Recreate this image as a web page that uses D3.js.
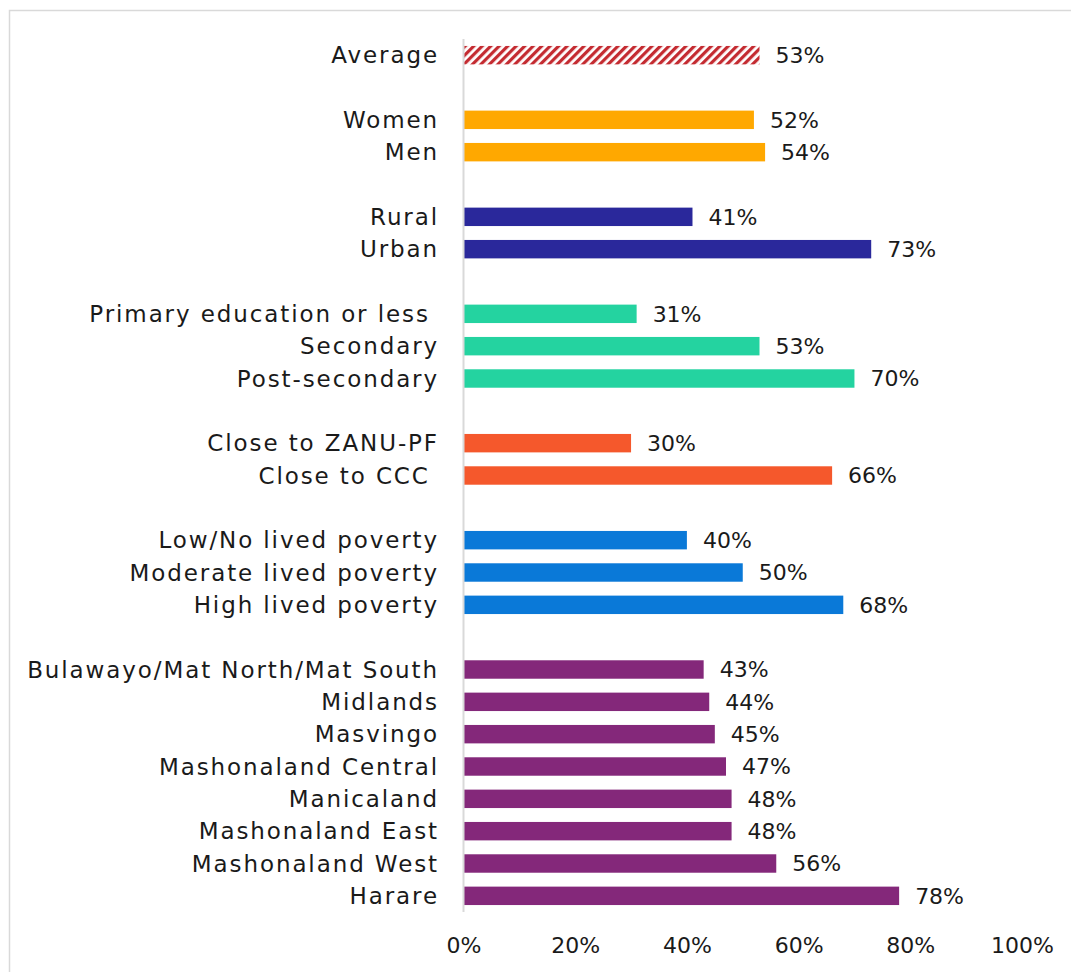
<!DOCTYPE html>
<html>
<head>
<meta charset="utf-8">
<script src="https://cdn.jsdelivr.net/npm/d3@7"></script>
<style>
  html, body { margin: 0; padding: 0; background: #fff; }
  svg text { font-family: "Century Gothic", "URW Gothic", "DejaVu Sans", sans-serif; fill: #1a1a1a; white-space: pre; }
</style>
</head>
<body>
<svg id="chart" width="1071" height="972"></svg>
<script>
// Rows from top to bottom; empty strings are spacer rows between groups
const categories = [
  "Average", "",
  "Women", "Men", "",
  "Rural", "Urban", "",
  "Primary education or less ", "Secondary", "Post-secondary", "",
  "Close to ZANU-PF", "Close to CCC ", "",
  "Low/No lived poverty", "Moderate lived poverty", "High lived poverty", "",
  "Bulawayo/Mat North/Mat South", "Midlands", "Masvingo", "Mashonaland Central",
  "Manicaland", "Mashonaland East", "Mashonaland West", "Harare"
];
const values = [
  53, null,
  52, 54, null,
  41, 73, null,
  31, 53, 70, null,
  30, 66, null,
  40, 50, 68, null,
  43, 44, 45, 47, 48, 48, 56, 78
];
const groups = [
  "avg", null,
  "gender", "gender", null,
  "loc", "loc", null,
  "edu", "edu", "edu", null,
  "party", "party", null,
  "pov", "pov", "pov", null,
  "reg", "reg", "reg", "reg", "reg", "reg", "reg", "reg"
];
const tickValues = [0, 20, 40, 60, 80, 100];

const groupColors = {
  avg: "url(#hatch)",
  gender: "#FFA800",
  loc: "#2A289B",
  edu: "#24D3A0",
  party: "#F5582C",
  pov: "#0A79D8",
  reg: "#84287A"
};

const svg = d3.select("#chart");
const fontSize = 22;

// Outer frame
svg.append("rect")
  .attr("x", 9.5).attr("y", 10.5)
  .attr("width", 1100).attr("height", 1000)
  .attr("fill", "none").attr("stroke", "#d9d9d9").attr("stroke-width", 1.5);

// Diagonal hatch for the average bar
const defs = svg.append("defs");
const pat = defs.append("pattern")
  .attr("id", "hatch")
  .attr("patternUnits", "userSpaceOnUse")
  .attr("width", 6).attr("height", 6)
  .attr("patternTransform", "rotate(45)");
pat.append("rect").attr("width", 6).attr("height", 6).attr("fill", "#ffffff");
pat.append("rect").attr("width", 3.2).attr("height", 6).attr("fill", "#C42B31");

const rows = categories.map((c, i) => ({ id: i, label: c, value: values[i], group: groups[i] }));

const x = d3.scaleLinear().domain([0, 100]).range([463.5, 1022]);
const y = d3.scaleBand().domain(rows.map(d => d.id)).range([39, 912]).paddingInner(0.43).paddingOuter(0.215);

// Bars
const bars = rows.filter(d => d.value !== null);
svg.append("g").selectAll("rect").data(bars).join("rect")
  .attr("x", x(0))
  .attr("y", d => y(d.id))
  .attr("width", d => x(d.value) - x(0))
  .attr("height", y.bandwidth())
  .attr("fill", d => groupColors[d.group]);

// Value labels
svg.append("g").selectAll("text").data(bars).join("text")
  .attr("x", d => x(d.value) + 16)
  .attr("y", d => y(d.id) + y.bandwidth() / 2)
  .attr("dy", "0.35em")
  .attr("font-size", fontSize)
  .text(d => d.value + "%");

// Category labels
svg.append("g").selectAll("text").data(bars).join("text")
  .attr("x", 439)
  .attr("y", d => y(d.id) + y.bandwidth() / 2)
  .attr("dy", "0.35em")
  .attr("text-anchor", "end")
  .attr("font-size", 23)
  .attr("letter-spacing", "1.9px")
  .text(d => d.label);

// Vertical axis line
svg.append("line")
  .attr("x1", x(0)).attr("x2", x(0))
  .attr("y1", 39).attr("y2", 912)
  .attr("stroke", "#d9d9d9").attr("stroke-width", 2);

// Bottom tick labels
const xAxis = d3.axisBottom(x).tickValues(tickValues).tickFormat(d => d + "%").tickSize(0).tickPadding(0);
const gx = svg.append("g").attr("transform", "translate(0,945)").call(xAxis);
gx.select(".domain").remove();
gx.selectAll("text")
  .attr("font-size", fontSize)
  .attr("font-family", null)
  .attr("dy", "0.35em")
  .attr("y", 0);
</script>
</body>
</html>
